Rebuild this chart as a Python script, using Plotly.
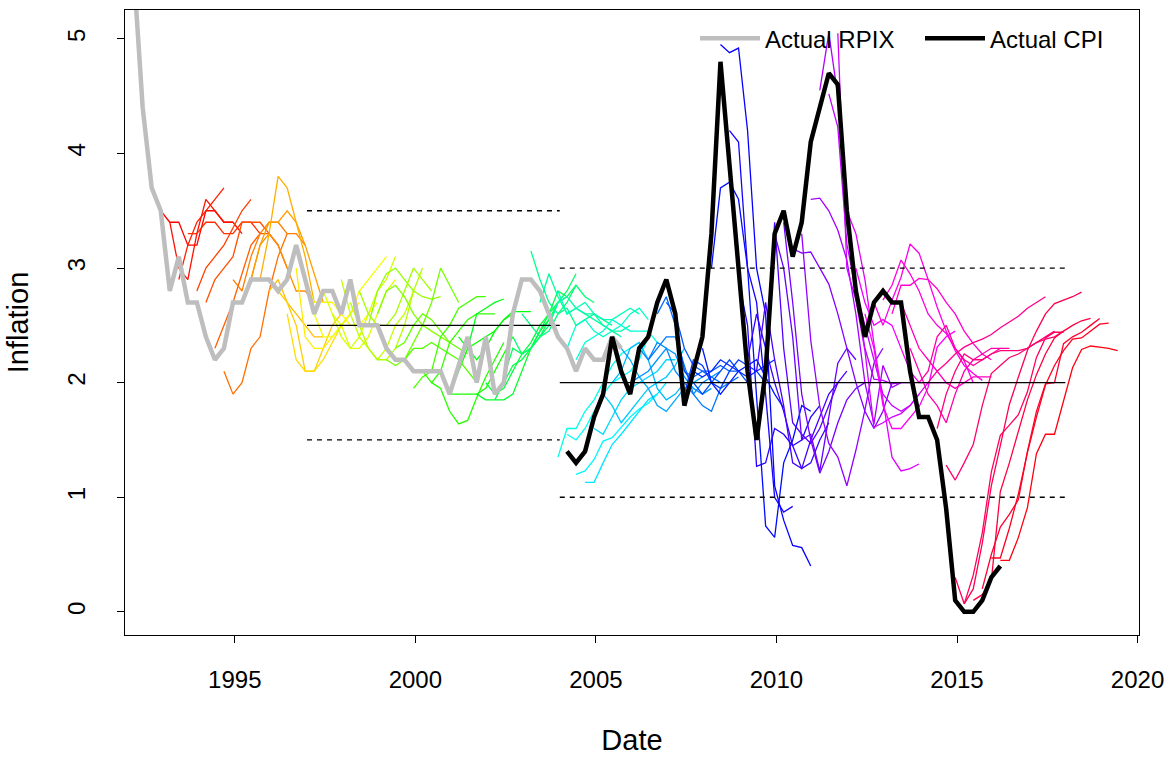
import colorsys
import plotly.graph_objects as go

# ---------------- data ----------------
rpix_start = 1992.2
rpix_values = [5.6, 4.4, 3.7, 3.5, 2.8, 3.1, 2.7, 2.7, 2.4, 2.2, 2.3, 2.7, 2.7, 2.9, 2.9, 2.9,
               2.8, 2.9, 3.2, 2.9, 2.6, 2.8, 2.8, 2.6, 2.9, 2.5, 2.5, 2.5, 2.3, 2.2, 2.2, 2.1,
               2.1, 2.1, 2.1, 1.9, 2.15, 2.4, 2.0, 2.4, 1.9, 2.0, 2.6, 2.9, 2.9, 2.8, 2.6, 2.4,
               2.3, 2.1, 2.3, 2.2, 2.2, 2.4, 2.3]

cpi_start = 2004.2
cpi_values = [1.4, 1.3, 1.4, 1.7, 1.9, 2.4, 2.1, 1.9, 2.3, 2.4, 2.7, 2.9, 2.6, 1.8, 2.1, 2.4,
              3.3, 4.8, 3.9, 3.0, 2.1, 1.5, 2.1, 3.3, 3.5, 3.1, 3.4, 4.1, 4.4, 4.7, 4.6, 3.5,
              2.8, 2.4, 2.7, 2.8, 2.7, 2.7, 2.1, 1.7, 1.7, 1.5, 0.9, 0.1, 0.0, 0.0, 0.1, 0.3, 0.4]

# forecast start dates and quarterly forecast paths
fc_start = [
    1992.95, 1993.2, 1993.45, 1993.7, 1993.95, 1994.2, 1994.45, 1994.7,
    1994.95, 1995.2, 1995.45, 1995.7, 1995.95, 1996.2, 1996.45, 1996.7,
    1996.95, 1997.2, 1997.45, 1997.7, 1997.95, 1998.2, 1998.45,
    1998.7, 1998.95, 1999.2, 1999.45, 1999.7, 1999.95,
    2000.2, 2000.45, 2000.7, 2000.95, 2001.2, 2001.45, 2001.7, 2001.95, 2002.2, 2002.45, 2002.7, 2002.95,
    2003.2, 2003.45, 2003.7, 2003.95, 2004.2, 2004.45,
    2003.95, 2004.2, 2004.45, 2004.7, 2004.95, 2005.2, 2005.45, 2005.7,
    2005.95, 2006.2, 2006.45, 2006.7, 2006.95, 2007.2, 2007.45,
    2007.7, 2007.95, 2008.2, 2008.45, 2008.7, 2008.95, 2009.2, 2009.45,
    2009.7, 2009.95, 2010.2, 2010.45, 2010.7, 2010.95, 2011.2, 2011.45,
    2011.7, 2011.95, 2012.2, 2012.45, 2012.7, 2012.95, 2013.2, 2013.45, 2013.7, 2013.95,
    2014.2, 2014.45, 2014.7, 2014.95, 2015.2, 2015.45, 2015.7, 2015.95, 2016.2,
]
fc_values = [
    [3.5, 3.4, 3.4, 3.2, 3.2, 3.5, 3.5, 3.4, 3.4],
    [3.4, 3.0, 2.9, 3.3, 3.6, 3.5, 3.4, 3.4, 3.3],
    [2.9, 3.2, 3.4, 3.5, 3.6, 3.7],
    [3.3, 3.3, 3.4, 3.4, 3.3, 3.3, 3.4, 3.4, 3.3],
    [2.8, 3.0, 3.1, 3.2, 3.35, 3.5, 3.6],
    [2.7, 2.9, 3.0, 3.1, 3.4, 3.4, 3.4, 3.3, 3.2],
    [2.3, 2.5, 2.7, 2.95, 3.2, 3.3, 3.3, 3.2, 3.0],
    [2.1, 1.9, 2.0, 2.3, 2.4, 2.8, 3.1, 3.3],
    [2.9, 2.8, 3.1, 3.3, 3.4, 3.4, 3.3, 3.3, 3.2],
    [2.7, 2.9, 3.2, 3.3, 3.2, 3.0, 2.8, 2.8, 2.7],
    [2.9, 3.2, 3.4, 3.4, 3.5, 3.4, 3.2, 2.95, 2.7],
    [2.9, 3.3, 3.8, 3.7, 3.4, 3.1, 2.7, 2.7, 2.7],
    [2.8, 2.9, 2.7, 2.6, 2.5, 2.4, 2.4],
    [2.8, 2.7, 2.5, 2.1, 2.1, 2.3, 2.5, 2.6],
    [2.6, 2.2, 2.1, 2.1, 2.2, 2.35, 2.5, 2.6],
    [3.0, 2.4, 2.3, 2.3, 2.4, 2.5, 2.6, 2.7],
    [2.9, 2.7, 2.7, 2.7, 2.6, 2.5, 2.5, 2.6, 2.7],
    [2.6, 2.4, 2.4, 2.5, 2.6, 2.8, 2.9, 3.0, 3.1],
    [2.8, 2.6, 2.5, 2.3, 2.3, 2.4, 2.6, 2.8, 2.9],
    [2.6, 2.4, 2.3, 2.4, 2.6, 2.8, 2.9, 3.1],
    [2.9, 2.6, 2.4, 2.3, 2.2, 2.3, 2.5, 2.6, 2.8],
    [2.7, 2.5, 2.3, 2.2, 2.2, 2.3, 2.5, 2.8, 3.0],
    [2.8, 2.6, 2.5, 2.5, 2.6, 2.8, 3.0, 2.9, 2.8],
    [2.5, 2.8, 2.95, 3.0, 2.9, 2.8, 2.75, 2.73, 2.75],
    [2.6, 2.8, 2.85, 2.75, 2.6, 2.5, 2.45, 2.4, 2.35],
    [2.2, 2.15, 2.2, 2.35, 2.5, 2.7, 3.0, 2.85, 2.7],
    [2.3, 2.35, 2.5, 2.6, 2.55, 2.45, 2.35, 2.3, 2.25],
    [2.2, 2.3, 2.3, 2.35, 2.3, 2.25, 2.2, 2.1, 2.0],
    [1.95, 2.05, 2.1, 2.4, 2.5, 2.65, 2.7, 2.75, 2.75],
    [2.1, 2.0, 2.1, 2.35, 2.45, 2.55, 2.6, 2.6, 2.6],
    [2.0, 1.95, 1.75, 1.64, 1.67, 1.87, 2.05, 2.2, 2.35],
    [2.1, 1.9, 1.9, 1.9, 1.9, 1.95, 2.1, 2.25, 2.4],
    [1.9, 2.1, 2.3, 2.35, 2.4, 2.45, 2.55, 2.6],
    [2.4, 2.3, 2.2, 2.3, 2.45, 2.55, 2.62, 2.62, 2.62],
    [2.3, 2.6, 2.65, 2.7, 2.73],
    [1.9, 1.85, 1.85, 1.85, 1.9, 2.1, 2.3, 2.45, 2.55],
    [2.0, 1.9, 1.95, 2.1, 2.25, 2.35, 2.5, 2.6, 2.7],
    [1.85, 2.0, 2.15, 2.2, 2.3, 2.45, 2.6, 2.8, 2.75],
    [2.05, 2.3, 2.25, 2.3, 2.4, 2.55, 2.7, 2.75, 2.85],
    [2.4, 2.25, 2.3, 2.4, 2.5, 2.7, 2.8, 2.95],
    [2.6, 2.5, 2.4, 2.45, 2.6, 2.7, 2.85, 2.75, 2.7],
    [3.15, 2.9, 2.7, 2.6, 2.65, 2.5, 2.55, 2.6, 2.55, 2.5],
    [2.7, 2.95, 2.75, 2.6, 2.65, 2.6, 2.6, 2.5, 2.45, 2.4],
    [2.5, 2.7, 2.75, 2.65, 2.6, 2.55, 2.5, 2.45, 2.45, 2.5],
    [2.8, 2.6, 2.65, 2.7, 2.6, 2.55, 2.55, 2.6, 2.65, 2.6],
    [2.3, 2.5, 2.55, 2.45, 2.4, 2.45, 2.5, 2.6, 2.65, 2.55],
    [2.2, 2.35, 2.4, 2.45, 2.55, 2.5, 2.45, 2.45, 2.45, 2.35],
    [1.35, 1.6, 1.6, 1.75, 1.85, 2.0, 2.15, 2.25, 2.3, 2.35],
    [1.55, 1.5, 1.6, 1.75, 1.9, 2.0, 2.05, 2.1, 2.2, 2.4],
    [1.2, 1.23, 1.33, 1.49, 1.52, 1.61, 1.7, 1.77, 1.82, 1.9],
    [1.13, 1.13, 1.3, 1.46, 1.55, 1.65, 1.75, 1.85, 1.9, 2.0],
    [1.6, 1.55, 1.7, 1.85, 1.95, 2.0, 2.05, 2.1, 2.2, 2.2],
    [1.9, 1.8, 1.65, 1.75, 1.85, 1.95, 2.0, 2.05, 2.15, 2.3],
    [2.0, 2.1, 2.3, 2.35, 2.2, 1.95, 1.85, 1.9, 2.0],
    [2.3, 2.2, 2.05, 1.95, 1.8, 1.75, 1.85, 1.95, 2.0, 2.05],
    [2.0, 2.05, 2.1, 2.2, 2.3, 2.25, 2.05, 1.95, 1.9, 1.95],
    [2.3, 2.2, 2.35, 2.3, 2.1, 2.0, 1.9, 2.0, 2.05, 2.1],
    [2.2, 2.3, 2.4, 2.4, 2.15, 1.9, 1.8, 1.75, 1.95, 2.0],
    [2.6, 2.75, 2.5, 2.1, 2.05, 2.1, 2.05, 2.0, 2.0, 2.05],
    [2.7, 2.6, 2.3, 2.15, 2.1, 2.1, 2.15, 2.1, 2.1],
    [2.5, 2.1, 2.0, 1.9, 2.0, 2.1, 2.2, 2.1, 2.0, 2.0],
    [1.9, 2.2, 2.15, 2.0, 1.95, 2.1, 2.2, 2.15, 2.1, 2.0],
    [2.1, 2.05, 2.1, 2.2, 2.15, 2.1, 2.05, 2.1, 2.15, 2.2],
    [2.3, 2.0, 1.9, 2.0, 2.1, 2.15, 2.2, 2.05, 1.9, 1.78],
    [3.0, 3.7, 3.75, 3.6, 3.0, 1.9, 0.75, 0.65, 1.3, 1.5, 1.8, 1.75],
    [4.95, 4.88, 4.92, 4.2, 3.0, 2.6, 1.1, 0.8, 0.58, 0.56, 0.4],
    [4.2, 4.1, 3.0, 2.7, 1.9, 1.0, 0.87, 0.92],
    [2.9, 2.5, 1.27, 1.3, 1.6, 1.55, 1.45, 1.5, 1.7, 1.8],
    [2.2, 2.6, 2.3, 2.0, 1.75, 1.45, 1.25, 1.3, 1.5, 1.65],
    [2.1, 2.7, 2.2, 1.8, 1.3, 1.25, 1.5, 1.7, 1.9, 2.0],
    [2.1, 3.4, 2.3, 1.65, 1.55, 1.47, 1.6, 1.8, 2.0, 2.1],
    [3.3, 3.0, 2.4, 1.5, 1.55, 1.23, 1.7, 2.17, 2.3, 2.2],
    [3.4, 2.7, 1.9, 1.5, 1.21, 1.4, 1.65, 1.85, 1.95, 2.0],
    [3.17, 3.13, 3.14, 3.0, 2.86, 2.6, 2.3, 2.0, 1.75, 1.6, 1.75, 2.0],
    [3.3, 2.37, 1.79, 1.47, 1.35, 1.1, 1.41, 1.76, 2.17, 2.3],
    [3.6, 3.61, 3.5, 3.33, 3.07, 2.6, 2.0, 1.64, 2.15, 1.96, 2.0],
    [4.55, 5.05, 4.5, 3.4, 2.8, 2.3, 2.03, 2.02, 1.99, 2.0, 2.0],
    [4.52, 4.23, 3.21, 2.8, 2.5, 2.2, 1.9, 1.8, 1.75, 1.8, 1.9],
    [5.05, 3.0, 2.72, 2.28, 1.61, 1.65, 1.7, 1.73, 1.8, 1.9, 2.0],
    [3.5, 3.3, 2.9, 2.34, 1.85, 1.35, 1.23, 1.25, 1.29],
    [3.0, 2.7, 2.5, 2.55, 2.5, 2.3, 2.1, 2.0, 2.0, 2.0, 2.0],
    [2.6, 2.3, 1.8, 1.6, 1.6, 1.7, 1.79, 1.96, 2.31, 2.4, 2.45],
    [2.7, 2.5, 2.72, 2.92, 3.21, 3.13, 2.9, 2.66, 2.45, 2.28, 2.15, 2.08, 2.02],
    [2.72, 2.85, 3.07, 2.95, 2.8, 2.6, 2.5, 2.43, 2.3, 2.19, 2.0],
    [2.6, 2.85, 2.85, 2.91, 2.9, 2.82, 2.7, 2.6, 2.45, 2.34, 2.25, 2.2],
    [2.7, 2.5, 2.3, 2.2, 2.1, 2.0, 1.95, 2.0, 2.05, 2.05, 2.05],
    [2.3, 2.1, 1.9, 1.8, 1.65, 1.9, 2.1, 2.2, 2.25, 2.3, 2.3],
    [2.0, 2.1, 2.4, 2.5, 2.3, 2.2, 2.15, 2.2, 2.25, 2.3, 2.3],
    [2.0, 2.1, 2.17, 2.25, 2.31, 2.35, 2.38, 2.42, 2.48, 2.53, 2.58, 2.65, 2.7, 2.75],
    [1.6, 1.9, 2.1, 2.25, 2.2, 2.2, 2.25, 2.28, 2.28, 2.28, 2.3, 2.35, 2.4, 2.45],
    [1.28, 1.15, 1.3, 1.46, 1.8, 2.08, 2.15, 2.22, 2.25, 2.3, 2.35, 2.38, 2.4, 2.45],
    [0.3, 0.07, 0.32, 0.69, 1.22, 1.54, 1.63, 1.72, 1.92, 2.22, 2.39, 2.44, 2.44],
    [0.07, 0.2, 0.6, 1.1, 1.45, 1.81, 2.05, 2.28, 2.45, 2.6, 2.69, 2.72, 2.75, 2.79],
    [0.1, 0.15, 0.27, 1.05, 1.3, 1.57, 1.85, 2.07, 2.25, 2.39, 2.45, 2.5, 2.54, 2.56],
    [0.2, 0.5, 0.74, 0.85, 0.98, 1.4, 1.75, 1.99, 2.0, 2.34, 2.4, 2.44, 2.5, 2.56],
    [0.47, 0.47, 0.73, 1.03, 1.39, 1.7, 1.98, 2.15, 2.28, 2.38, 2.39, 2.45, 2.51, 2.52],
    [0.45, 0.45, 0.65, 0.91, 1.38, 1.55, 1.55, 1.85, 2.13, 2.29, 2.32, 2.31, 2.3, 2.28],
]

# inflation target regimes: [start, end, target, band]
rpix_regime = [1997, 2004, 2.5, 1.0]
cpi_regime = [2004, 2018, 2.0, 1.0]

tick_years = [1995, 2000, 2005, 2010, 2015, 2020]
tick_infl = [0, 1, 2, 3, 4, 5]

# ---------------- figure ----------------
STEP = 0.25


def quarters(start, n):
    return [start + STEP * i for i in range(n)]


def rainbow(i, n):
    r, g, b = colorsys.hsv_to_rgb(i / n, 1, 1)
    return "rgb(%d,%d,%d)" % (round(r * 255), round(g * 255), round(b * 255))


fig = go.Figure()

n_fc = len(fc_start)
for i, (s, vals) in enumerate(zip(fc_start, fc_values)):
    fig.add_trace(go.Scatter(x=quarters(s, len(vals)), y=vals, mode="lines",
                             line=dict(color=rainbow(i, n_fc), width=1.3),
                             showlegend=False, hoverinfo="skip"))

for reg in (rpix_regime, cpi_regime):
    x0, x1, tgt, band = reg
    fig.add_trace(go.Scatter(x=[x0, x1], y=[tgt, tgt], mode="lines",
                             line=dict(color="black", width=1.3), showlegend=False))
    for yv in (tgt + band, tgt - band):
        fig.add_trace(go.Scatter(x=[x0, x1], y=[yv, yv], mode="lines",
                                 line=dict(color="black", width=1.3, dash="5px,5px"),
                                 showlegend=False))

fig.add_trace(go.Scatter(x=quarters(rpix_start, len(rpix_values)), y=rpix_values,
                         mode="lines", name="Actual RPIX", legend="legend",
                         line=dict(color="#BEBEBE", width=4.5)))
fig.add_trace(go.Scatter(x=quarters(cpi_start, len(cpi_values)), y=cpi_values,
                         mode="lines", name="Actual CPI", legend="legend2",
                         line=dict(color="black", width=4.5)))

axis_common = dict(showline=True, linecolor="black", linewidth=1.3, mirror=True,
                   ticks="outside", ticklen=7, tickwidth=1.3, tickcolor="black",
                   showgrid=False, zeroline=False, automargin=False)

PLOT_L, PLOT_W = 125, 1014
legend_common = dict(orientation="h", xanchor="left", y=0.99, yanchor="top",
                     bgcolor="rgba(0,0,0,0)", itemwidth=60, font=dict(size=24))

fig.update_layout(
    width=1173, height=758,
    margin=dict(l=125, r=34, t=10, b=123),
    paper_bgcolor="white", plot_bgcolor="white",
    font=dict(family="Liberation Sans, Arial, sans-serif", size=24, color="black"),
    xaxis=dict(range=[1991.96, 2020.04], tickvals=tick_years,
               title=dict(text="Date", standoff=37), ticklabelstandoff=16, **axis_common),
    yaxis=dict(range=[-0.202, 5.252], tickvals=tick_infl, tickangle=-90,
               title=dict(text="Inflation", standoff=26), ticklabelstandoff=22, **axis_common),
    legend=dict(x=(695 - PLOT_L) / PLOT_W, **legend_common),
    legend2=dict(x=(920 - PLOT_L) / PLOT_W, **legend_common),
)

fig.write_html("out.html")
